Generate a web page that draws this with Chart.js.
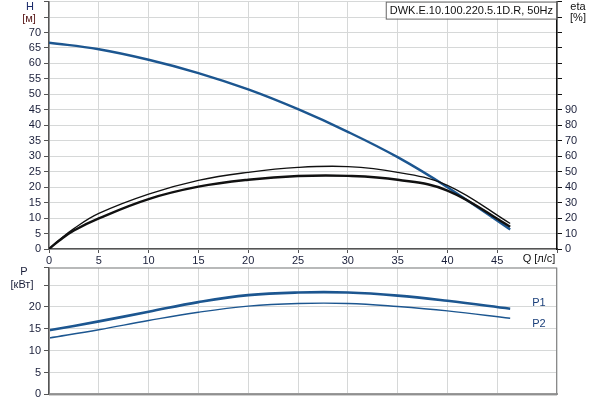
<!DOCTYPE html>
<html>
<head>
<meta charset="utf-8">
<script src="https://cdn.jsdelivr.net/npm/chart.js@4.4.1/dist/chart.umd.min.js"></script>
<style>
body { margin: 0; background: #fff; overflow: hidden; }
#wrap { position: relative; width: 600px; height: 400px; overflow: hidden; }
#boxTop { position: absolute; left: 0; top: -8px; width: 600px; height: 276px; }
#boxBottom { position: absolute; left: 0; top: 258px; width: 600px; height: 146px; }
</style>
</head>
<body>
<div id="wrap">
    <div id="boxTop"><canvas id="chartTop"></canvas></div>
    <div id="boxBottom"><canvas id="chartBottom"></canvas></div>
</div>
<script>
// flow, l/s
const qHead = [0, 5, 10, 15, 20, 25, 30, 35, 40, 46.3];
const headValues = [66.7, 64.6, 61.2, 56.9, 51.6, 45.2, 37.9, 29.7, 20.0, 6.3];

const qEta = [0, 1, 2.5, 5, 10, 15, 20, 25, 30, 35, 40, 46.3];
const etaPump = [0, 5.7, 13.2, 23, 35.5, 44.4, 49.6, 52.8, 53.3, 49.6, 41.2, 16.5];
const etaTotal = [0, 5.3, 12.0, 19.8, 32.3, 40.3, 44.8, 47.2, 47.3, 44.8, 37.8, 14.4];

const qPower = [0, 5, 10, 15, 20, 25, 30, 35, 40, 46.3];
const powerP1 = [14.65, 16.7, 18.9, 21.1, 22.7, 23.3, 23.3, 22.6, 21.4, 19.6];
const powerP2 = [12.9, 14.8, 16.9, 18.8, 20.2, 20.8, 20.8, 20.1, 19.1, 17.4];

const headTicks = [0, 5, 10, 15, 20, 25, 30, 35, 40, 45, 50, 55, 60, 65, 70];
const etaTicks = [0, 10, 20, 30, 40, 50, 60, 70, 80, 90];
const powerTicks = [0, 5, 10, 15, 20];
const qTicks = [0, 5, 10, 15, 20, 25, 30, 35, 40, 45];

const titleText = 'DWK.E.10.100.220.5.1D.R, 50Hz';

Chart.defaults.font.family = '"Liberation Sans", Arial, sans-serif';
Chart.defaults.font.size = 11;
Chart.defaults.animation = false;

const gridColor = '#d6d8d8';
const textColor = '#1a1f3a';
const blue = '#1c5690';

const toPoints = (xs, ys) => xs.map((x, i) => ({ x: x, y: ys[i] }));

const lineSet = (label, data, color, width, axis) => ({
    label: label,
    data: data,
    borderColor: color,
    borderWidth: width,
    pointRadius: 0,
    fill: false,
    tension: 0.4,
    yAxisID: axis
});

const showOnly = list => value => list.includes(value) ? String(value) : '';

const topTexts = {
    id: 'topTexts',
    afterDraw(chart) {
        const ctx = chart.ctx;
        const area = chart.chartArea;
        const top = area.top;
        ctx.save();
        ctx.font = '11px "Liberation Sans", Arial, sans-serif';
        ctx.textBaseline = 'middle';
        // model box
        const w = ctx.measureText(titleText).width + 8;
        ctx.fillStyle = '#fff';
        ctx.fillRect(area.right - w, top, w, 17);
        ctx.strokeStyle = '#666';
        ctx.lineWidth = 1;
        ctx.strokeRect(area.right - w + 0.5, top + 0.5, w - 1, 17);
        ctx.fillStyle = '#111';
        ctx.textAlign = 'left';
        ctx.fillText(titleText, area.right - w + 4, top + 9);
        // axis titles
        ctx.textAlign = 'center';
        ctx.fillStyle = '#1a2a6a';
        ctx.fillText('H', 30, top + 5);
        ctx.fillStyle = '#5a1a1a';
        ctx.fillText('[м]', 29, top + 17);
        ctx.fillStyle = '#111';
        ctx.fillText('eta', 578, top + 5);
        ctx.fillText('[%]', 578, top + 16);
        ctx.fillText('Q [л/с]', 539, area.bottom + 10);
        ctx.restore();
    }
};

const bottomTexts = {
    id: 'bottomTexts',
    afterDraw(chart) {
        const ctx = chart.ctx;
        const area = chart.chartArea;
        const xs = chart.scales.x;
        const ys = chart.scales.y;
        ctx.save();
        ctx.strokeStyle = '#8a8a8a';
        ctx.lineWidth = 1;
        ctx.strokeRect(area.left + 0.5, area.top + 0.5, area.right - area.left - 1, area.bottom - area.top);
        ctx.font = '11px "Liberation Sans", Arial, sans-serif';
        ctx.textBaseline = 'middle';
        ctx.textAlign = 'center';
        ctx.fillStyle = textColor;
        ctx.fillText('P', 24, area.top + 4);
        ctx.fillText('[кВт]', 22, area.top + 17);
        ctx.fillStyle = '#1a3f7a';
        ctx.textAlign = 'left';
        const lx = xs.getPixelForValue(qPower[qPower.length - 1]) + 22;
        ctx.fillText('P1', lx, ys.getPixelForValue(powerP1[powerP1.length - 1]) - 6);
        ctx.fillText('P2', lx, ys.getPixelForValue(powerP2[powerP2.length - 1]) + 6);
        ctx.restore();
    }
};

new Chart(document.getElementById('chartTop'), {
    type: 'line',
    data: {
        datasets: [
            lineSet('eta pump', toPoints(qEta, etaPump), '#111', 1.3, 'eta'),
            lineSet('eta total', toPoints(qEta, etaTotal), '#111', 2.4, 'eta'),
            lineSet('H', toPoints(qHead, headValues), blue, 2.4, 'y')
        ]
    },
    options: {
        responsive: true,
        maintainAspectRatio: false,
        layout: { padding: 0 },
        plugins: { legend: { display: false }, tooltip: { enabled: false } },
        scales: {
            x: {
                type: 'linear',
                min: 0,
                max: 51,
                ticks: { stepSize: 5, autoSkip: false, color: textColor, padding: 1, maxRotation: 0, callback: showOnly(qTicks) },
                grid: { color: gridColor, tickColor: '#555', tickLength: 4 },
                border: { color: '#555', width: 1.5 },
                afterFit: scale => { scale.height = 19; }
            },
            y: {
                position: 'left',
                min: 0,
                max: 80,
                ticks: { stepSize: 5, autoSkip: false, color: textColor, padding: 3, callback: showOnly(headTicks) },
                grid: { color: gridColor, tickColor: '#555', tickLength: 5 },
                border: { color: '#555', width: 1.5 },
                afterFit: scale => { scale.width = 49; }
            },
            eta: {
                position: 'right',
                min: 0,
                max: 160,
                ticks: { stepSize: 10, autoSkip: false, color: textColor, padding: 3, callback: showOnly(etaTicks) },
                grid: { drawOnChartArea: false, tickColor: '#111', tickLength: 5 },
                border: { color: '#111', width: 1.5 },
                afterFit: scale => { scale.width = 43; }
            }
        }
    },
    plugins: [topTexts]
});

new Chart(document.getElementById('chartBottom'), {
    type: 'line',
    data: {
        datasets: [
            lineSet('P1', toPoints(qPower, powerP1), blue, 2.6, 'y'),
            lineSet('P2', toPoints(qPower, powerP2), blue, 1.4, 'y')
        ]
    },
    options: {
        responsive: true,
        maintainAspectRatio: false,
        layout: { padding: { top: 3, right: 43 } },
        plugins: { legend: { display: false }, tooltip: { enabled: false } },
        scales: {
            x: {
                type: 'linear',
                min: 0,
                max: 51,
                ticks: { display: false, stepSize: 5 },
                grid: { color: gridColor, drawTicks: false },
                border: { color: '#999', width: 2 },
                afterFit: scale => { scale.height = 8; }
            },
            y: {
                min: 0,
                max: 29,
                ticks: { stepSize: 5, autoSkip: false, color: textColor, padding: 3, callback: showOnly(powerTicks) },
                grid: { color: gridColor, tickColor: '#555', tickLength: 5 },
                border: { color: '#555', width: 1.5 },
                afterFit: scale => { scale.width = 49; }
            }
        }
    },
    plugins: [bottomTexts]
});
</script>
</body>
</html>
